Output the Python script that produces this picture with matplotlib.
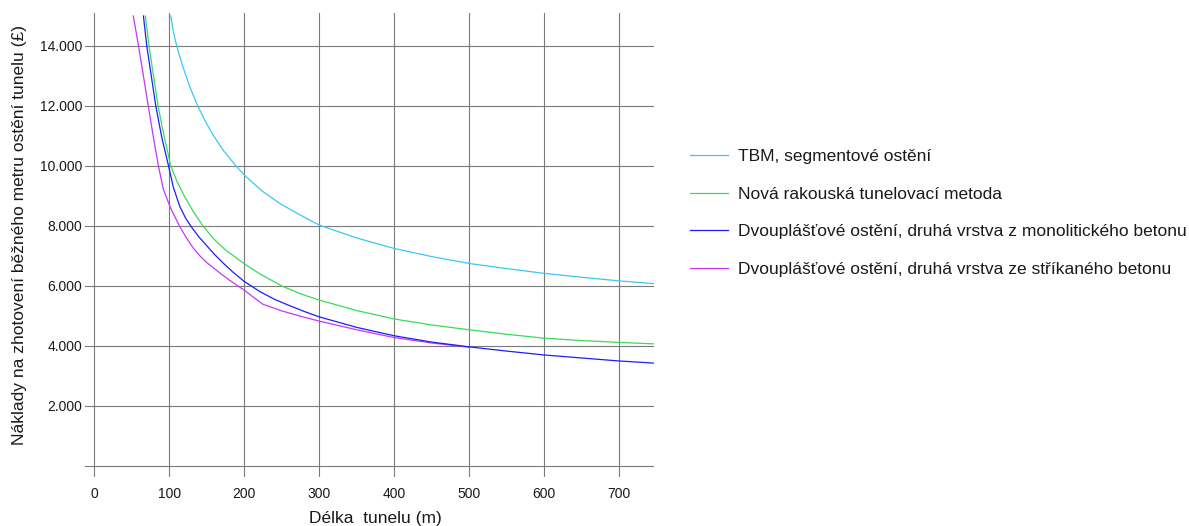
import matplotlib
matplotlib.use("Agg")
import matplotlib.pyplot as plt

plt.rcParams["font.family"] = ["Liberation Sans", "DejaVu Sans"]

# Tunnel length (m) and lining cost per running metre (GBP) for each method
tbm_len = [102, 105, 108, 113, 119, 128, 138, 148, 158, 172, 189, 200, 223, 248, 275, 300,
           350, 400, 450, 500, 550, 600, 650, 700, 746]
tbm_cost = [15000, 14550, 14190, 13730, 13240, 12600, 12000, 11490, 11050, 10520, 10000,
            9700, 9180, 8740, 8360, 8030, 7600, 7250, 6980, 6750, 6580, 6420, 6290, 6170, 6080]

natm_len = [68, 73, 79, 85, 93, 102, 110, 120, 132, 145, 160, 175, 200, 221, 250, 275, 300,
            350, 400, 450, 500, 550, 600, 650, 700, 746]
natm_cost = [15000, 14000, 13000, 12000, 11000, 10000, 9500, 9000, 8480, 8000, 7550, 7200,
             6740, 6400, 6000, 5740, 5530, 5180, 4900, 4700, 4540, 4390, 4260, 4180,
             4120, 4070]

mono_len = [65.5, 70, 76, 82, 90, 99, 105.3, 114, 122, 130, 140, 150, 160, 172, 185, 200,
            221, 240, 258, 280, 300, 350, 400, 450, 500, 550, 600, 650, 700, 746]
mono_cost = [15000, 14000, 13000, 12000, 10950, 10000, 9300, 8650, 8250, 7950, 7620, 7340,
             7060, 6760, 6460, 6150, 5810, 5560, 5370, 5150, 4970, 4620, 4340, 4130, 3970,
             3830, 3700, 3600, 3500, 3430]

shot_len = [52, 59, 65.5, 72, 78.5, 85.5, 92, 101, 108, 114, 123, 132, 141, 150, 167.6, 180,
            194, 200, 212, 225, 250, 275, 300, 350, 400, 450, 500]
shot_cost = [15000, 14000, 13000, 12000, 11000, 10000, 9230, 8640, 8280, 7980, 7600, 7260,
             7000, 6780, 6430, 6200, 5960, 5860, 5630, 5390, 5170, 4990, 4830, 4540, 4280,
             4100, 3960]

series_labels = [
    "TBM, segmentové ostění",
    "Nová rakouská tunelovací metoda",
    "Dvouplášťové ostění, druhá vrstva z monolitického betonu",
    "Dvouplášťové ostění, druhá vrstva ze stříkaného betonu",
]
series_colors = ["#38c8f8", "#38dc58", "#1c1cff", "#c836f8"]

x_ticks = [0, 100, 200, 300, 400, 500, 600, 700]
y_grid = [0, 2000, 4000, 6000, 8000, 10000, 12000, 14000]
y_ticks = [2000, 4000, 6000, 8000, 10000, 12000, 14000]
y_tick_labels = ["2.000", "4.000", "6.000", "8.000", "10.000", "12.000", "14.000"]

fig = plt.figure(figsize=(11.89, 5.26), dpi=100)
ax = fig.add_axes([85 / 1189, 1 - 477 / 526, (654 - 85) / 1189, (477 - 12.7) / 526])

ax.set_xlim(-12.4, 746.3)
ax.set_ylim(-367, 15110)

grid_kw = dict(color="#7a7a7a", linewidth=0.8, zorder=1)
for xv in x_ticks:
    ax.axvline(xv, **grid_kw)
for yv in y_grid:
    ax.axhline(yv, **grid_kw)

# Blue is drawn over magenta where the two curves meet
data = [(tbm_len, tbm_cost), (natm_len, natm_cost), (shot_len, shot_cost), (mono_len, mono_cost)]
order = [0, 1, 3, 2]
handles = {}
for (xs, ys), idx in zip(data, order):
    (ln,) = ax.plot(xs, ys, color=series_colors[idx], linewidth=0.9, zorder=3,
                    label=series_labels[idx])
    handles[idx] = ln

for side in ["top", "right", "bottom", "left"]:
    ax.spines[side].set_visible(False)

ax.set_xticks(x_ticks)
ax.set_xticklabels([str(v) for v in x_ticks])
ax.set_yticks(y_ticks)
ax.set_yticklabels(y_tick_labels)
ax.tick_params(axis="both", length=0, labelsize=10, colors="#1a1a1a")
ax.tick_params(axis="x", pad=7)
ax.tick_params(axis="y", pad=2)

fig.text(375 / 1189, 1 - 519 / 526, "Délka  tunelu (m)", fontsize=12.5,
         ha="center", va="center", color="#1a1a1a")
fig.text(20 / 1189, 1 - 235 / 526, "Náklady na zhotovení běžného metru ostění tunelu (£)",
         fontsize=12.5, rotation=90, ha="center", va="center", color="#1a1a1a")

leg = fig.legend([handles[i] for i in range(4)], series_labels,
                 loc="upper left", bbox_to_anchor=(690 / 1189, 1 - 149 / 526),
                 frameon=False, fontsize=12.5, handlelength=2.2, handletextpad=0.55,
                 labelspacing=1.29, borderpad=0, borderaxespad=0)
for t in leg.get_texts():
    t.set_color("#1a1a1a")

fig.savefig("out.png", dpi=100)
